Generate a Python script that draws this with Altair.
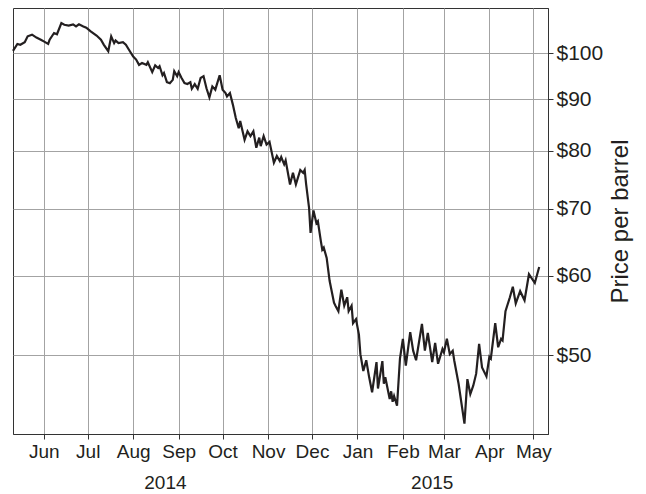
import altair as alt
import pandas as pd

# WTI-style daily price
dates = [
    "2014-05-11", "2014-05-14", "2014-05-16", "2014-05-19", "2014-05-21", "2014-05-24",
    "2014-05-27", "2014-05-30", "2014-06-01", "2014-06-04", "2014-06-05", "2014-06-08",
    "2014-06-10", "2014-06-13", "2014-06-15", "2014-06-18", "2014-06-21", "2014-06-23",
    "2014-06-25", "2014-06-28", "2014-06-30", "2014-07-03", "2014-07-07", "2014-07-10",
    "2014-07-12", "2014-07-15", "2014-07-17", "2014-07-19", "2014-07-20", "2014-07-22",
    "2014-07-25", "2014-07-27", "2014-07-29", "2014-08-01", "2014-08-03", "2014-08-05",
    "2014-08-07", "2014-08-10", "2014-08-11", "2014-08-14", "2014-08-16", "2014-08-18",
    "2014-08-19", "2014-08-21", "2014-08-22", "2014-08-24", "2014-08-26", "2014-08-28",
    "2014-08-29", "2014-08-31", "2014-09-01", "2014-09-03", "2014-09-05", "2014-09-07",
    "2014-09-09", "2014-09-10", "2014-09-12", "2014-09-14", "2014-09-16", "2014-09-18",
    "2014-09-20", "2014-09-22", "2014-09-24", "2014-09-26", "2014-09-29", "2014-10-01",
    "2014-10-03", "2014-10-04", "2014-10-06", "2014-10-08", "2014-10-10", "2014-10-12",
    "2014-10-13", "2014-10-16", "2014-10-18", "2014-10-20", "2014-10-22", "2014-10-24",
    "2014-10-26", "2014-10-27", "2014-10-29", "2014-10-31", "2014-11-02", "2014-11-05",
    "2014-11-07", "2014-11-09", "2014-11-10", "2014-11-12", "2014-11-13", "2014-11-16",
    "2014-11-18", "2014-11-20", "2014-11-23", "2014-11-25", "2014-11-26", "2014-11-27",
    "2014-11-29", "2014-11-30", "2014-12-02", "2014-12-04", "2014-12-05", "2014-12-07",
    "2014-12-08", "2014-12-09", "2014-12-11", "2014-12-13", "2014-12-16", "2014-12-17",
    "2014-12-19", "2014-12-21", "2014-12-23", "2014-12-25", "2014-12-26", "2014-12-28",
    "2014-12-29", "2014-12-31", "2015-01-02", "2015-01-03", "2015-01-05", "2015-01-07",
    "2015-01-09", "2015-01-11", "2015-01-14", "2015-01-15", "2015-01-18", "2015-01-19",
    "2015-01-20", "2015-01-23", "2015-01-24", "2015-01-25", "2015-01-26", "2015-01-28",
    "2015-01-30", "2015-02-01", "2015-02-03", "2015-02-06", "2015-02-08", "2015-02-10",
    "2015-02-14", "2015-02-16", "2015-02-18", "2015-02-21", "2015-02-23", "2015-02-25",
    "2015-02-28", "2015-03-01", "2015-03-03", "2015-03-05", "2015-03-07", "2015-03-08",
    "2015-03-11", "2015-03-15", "2015-03-17", "2015-03-19", "2015-03-21", "2015-03-23",
    "2015-03-25", "2015-03-27", "2015-03-30", "2015-04-01", "2015-04-02", "2015-04-05",
    "2015-04-07", "2015-04-09", "2015-04-10", "2015-04-12", "2015-04-15", "2015-04-17",
    "2015-04-19", "2015-04-22", "2015-04-25", "2015-04-28", "2015-05-02", "2015-05-05",
]
prices = [
    100.6, 102.2, 102.0, 102.6, 104.0, 104.4,
    103.7, 103.2, 102.8, 102.2, 103.2, 104.8,
    104.5, 107.2, 106.8, 106.6, 106.9, 106.4,
    106.9, 106.4, 106.1, 105.2, 104.2, 103.2,
    102.0, 100.5, 104.0, 102.4, 103.0, 102.4,
    102.6, 102.0, 100.9, 99.3, 98.6, 97.4,
    97.8, 97.4, 98.0, 95.8, 97.3, 96.7,
    97.1, 95.1, 95.6, 93.6, 93.4, 94.1,
    96.0, 94.9, 95.8, 94.5, 93.4, 93.2,
    93.6, 92.2, 93.2, 92.2, 94.5, 94.9,
    92.3, 90.4, 92.7, 92.0, 95.1, 92.0,
    91.3, 90.6, 91.3, 88.9, 86.2, 84.2,
    85.6, 82.0, 83.6, 82.7, 83.6, 80.5,
    82.4, 80.8, 82.7, 81.1, 81.6, 77.8,
    79.0, 78.1, 78.8, 77.5, 78.2, 74.0,
    76.0, 74.0, 76.5, 76.0, 76.5, 74.0,
    70.1, 66.2, 69.7, 67.7, 68.0, 65.0,
    63.7, 64.0, 62.5, 59.3, 56.4, 56.0,
    55.3, 58.1, 56.0, 57.1, 55.3, 56.0,
    53.8, 54.3, 52.4, 50.1, 48.2, 49.4,
    47.5, 45.9, 49.2, 46.3, 49.3, 46.8,
    47.5, 45.2, 46.0, 44.9, 45.5, 44.5,
    49.6, 51.9, 48.8, 52.7, 50.5, 49.4,
    53.7, 50.5, 52.6, 49.2, 51.4, 49.0,
    50.7, 50.3, 51.9, 50.1, 50.5, 49.4,
    46.8, 42.7, 47.3, 45.7, 46.6, 47.9,
    51.3, 48.6, 47.6, 49.8, 49.6, 53.8,
    50.9, 51.9, 51.7, 55.3, 57.1, 58.5,
    56.3, 57.9, 56.7, 60.2, 59.0, 61.2,
]

price_ticks = [50, 60, 70, 80, 90, 100]
month_ticks = [(2014, m) for m in range(6, 13)] + [(2015, m) for m in range(1, 6)]
years = ["2014", "2015"]
year_anchor = ["2014-08-23", "2015-02-21"]

source = pd.DataFrame({"date": dates, "price": prices})
years_df = pd.DataFrame({"date": year_anchor, "year": years})

W, H = 535, 426
ink = "#231f20"
font = "Liberation Sans"

x_scale = alt.Scale(
    type="utc",
    domain=[
        alt.DateTime(year=2014, month=5, date=11, utc=True),
        alt.DateTime(year=2015, month=5, date=11, utc=True),
    ],
)

line = alt.Chart(source).mark_line(color=ink, strokeWidth=2.2).encode(
    x=alt.X(
        "date:T",
        scale=x_scale,
        axis=alt.Axis(
            values=[alt.DateTime(year=y, month=m, date=1, utc=True) for y, m in month_ticks],
            format="%b",
            title=None,
            grid=True,
            labelFontSize=19,
            labelPadding=3,
        ),
    ),
    y=alt.Y(
        "price:Q",
        scale=alt.Scale(type="log", domain=[41.7, 111], nice=False),
        axis=alt.Axis(
            orient="right",
            values=price_ticks,
            labelExpr="'$' + datum.value",
            title="Price per barrel",
            titleAngle=270,
            titleBaseline="top",
            titleFontSize=24,
            titleFontWeight="normal",
            titlePadding=6,
            grid=True,
            labelFontSize=21,
            labelPadding=3,
        ),
    ),
)

year_text = alt.Chart(years_df).mark_text(
    fontSize=19, font=font, color=ink, baseline="middle"
).encode(
    x=alt.X("date:T", scale=x_scale),
    y=alt.value(H + 49),
    text="year:N",
)

chart = (
    alt.layer(line, year_text)
    .properties(width=W, height=H, padding={"left": 0, "top": 0, "right": 5, "bottom": 0})
    .configure_view(stroke="#333333", strokeWidth=1)
    .configure_axis(
        labelFont=font,
        titleFont=font,
        labelColor=ink,
        titleColor=ink,
        gridColor="#a3a3a3",
        gridWidth=1,
        domainColor="#333333",
        tickColor="#333333",
        tickSize=5,
    )
)

chart.save("out.html", embed_options={"renderer": "svg", "actions": False})
